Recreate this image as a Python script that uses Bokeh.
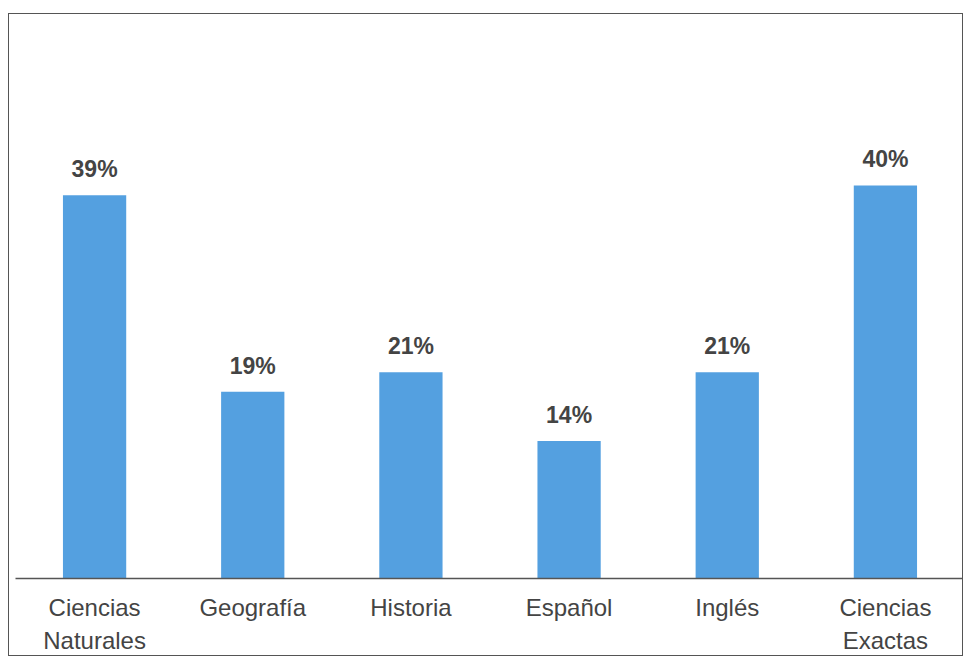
from bokeh.plotting import figure
from bokeh.models import ColumnDataSource, Range1d, FactorRange, LabelSet
from bokeh.core.properties import value
from bokeh.embed import file_html
from bokeh.resources import INLINE

categories = ["Ciencias\nNaturales", "Geografía", "Historia", "Español", "Inglés", "Ciencias\nExactas"]
values = [39, 19, 21, 14, 21, 40]
labels = ["39%", "19%", "21%", "14%", "21%", "40%"]

src = ColumnDataSource(dict(cat=categories, val=values, lab=labels))

p = figure(width=955, height=643, x_range=FactorRange(*categories, range_padding=0.0),
           y_range=Range1d(0, 57.4), output_backend="svg", toolbar_location=None,
           min_border_left=6, min_border_right=0, min_border_top=0, min_border_bottom=70)
p.styles = {"border": "1px solid #555555", "margin-top": "13px", "margin-left": "8px",
            "box-sizing": "border-box"}

p.vbar(x="cat", top="val", width=0.4, source=src, fill_color="#54a0e0", line_color=None)

p.add_layout(LabelSet(x="cat", y="val", text="lab", source=src, text_align="center",
                      text_baseline="bottom", y_offset=13, text_font=value("Liberation Sans"),
                      text_font_style="bold", text_font_size="23px", text_color="#444444"))

p.outline_line_color = None
p.background_fill_color = "white"
p.border_fill_color = "white"
p.xgrid.visible = False
p.ygrid.visible = False
p.yaxis.visible = False

ax = p.xaxis[0]
ax.axis_line_color = "#555555"
ax.axis_line_width = 1.5
ax.major_tick_line_color = None
ax.minor_tick_line_color = None
ax.major_label_text_font = "Liberation Sans"
ax.major_label_text_font_size = "24px"
ax.major_label_text_color = "#444444"
ax.major_label_text_line_height = 1.25
ax.major_label_standoff = 9
ax.major_label_orientation = "horizontal"

open("out.html", "w").write(file_html(p, INLINE))
